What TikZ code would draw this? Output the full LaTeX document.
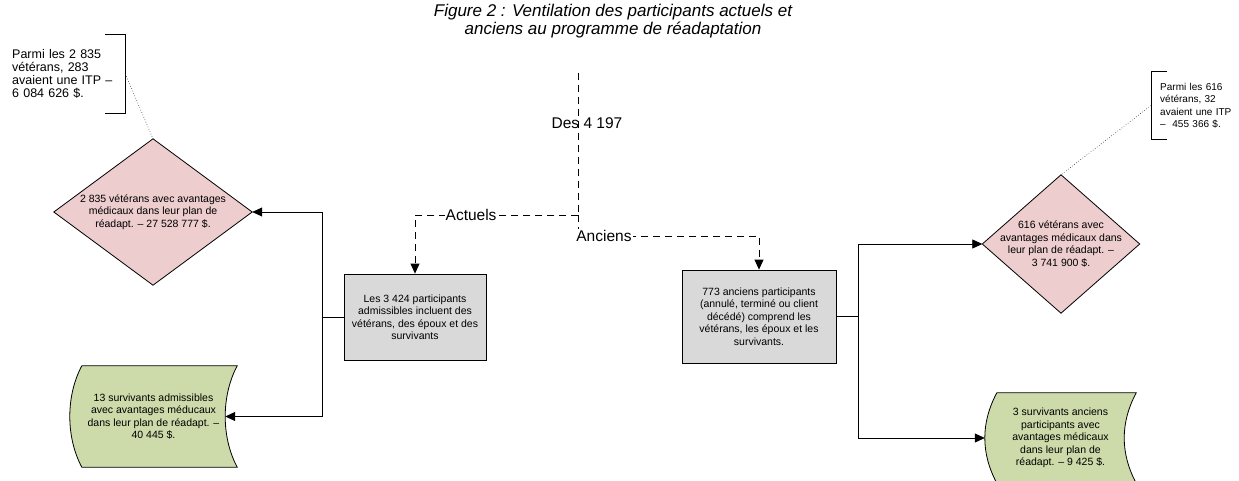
\documentclass[tikz,border=0pt]{standalone}
\usepackage{fontspec}
\setmainfont{Liberation Sans}
\usetikzlibrary{arrows.meta,backgrounds}

\definecolor{rose}{RGB}{237,205,205}
\definecolor{sauge}{RGB}{205,219,170}
\definecolor{gris}{RGB}{217,217,217}

\begin{document}
\begin{tikzpicture}
    % 样式: 1pt = 1 像素, y 轴向下
    [x=1pt, y=-1pt,
    BoxTxt/.style={font=\fontsize{10.5}{12.5}\selectfont, align=center, inner sep=0pt},
    GrayBox/.style={BoxTxt, rectangle, draw=black, line width=0.8pt, fill=gris},
    NoteTxt/.style={align=left, inner ysep=0pt, anchor=west},
    Lbl/.style={font=\fontsize{15.5}{18}\selectfont, inner sep=1pt},
    Caption/.style={font=\fontsize{17}{18.5}\selectfont\itshape, align=center},
    Link/.style={line width=0.8pt, -{Triangle[length=10pt,width=9pt]}},
    Plain/.style={line width=0.8pt},
    Dash/.style={line width=0.8pt, dash pattern=on 7pt off 5pt},
    Dots/.style={line width=0.6pt, dotted, black!85},
    DiaLine/.style={draw=black, line width=0.8pt, fill=rose},
    ScrollLine/.style={draw=black, line width=0.8pt, fill=sauge}]

    % 画布大小
    \useasboundingbox (0,0) rectangle (1239,481);

    % 标题
    \node[Caption] (titre) at (613,21)
        {Figure 2 : Ventilation des participants actuels et\\anciens au programme de réadaptation};

    % 分叉点
    \coordinate (top) at (578,73);
    \coordinate (split) at (578,215);
    \coordinate (anc) at (578,236);

    % 中间两个灰色方框
    \node[GrayBox, minimum width=142pt, minimum height=86pt] (box1) at (415,317)
        {Les 3 424 participants\\admissibles incluent des\\vétérans, des époux et des\\survivants};
    \node[GrayBox, minimum width=154pt, minimum height=93pt] (box2) at (759,316.5)
        {773 anciens participants\\(annulé, terminé ou client\\décédé) comprend les\\vétérans, les époux et les\\survivants.};

    % 菱形结点 (外框在背景层画)
    \node[BoxTxt, minimum width=198pt, minimum height=146pt] (dia1) at (153,212)
        {2 835 vétérans avec avantages\\médicaux dans leur plan de\\réadapt. – 27 528 777 \$.};
    \node[BoxTxt, minimum width=157pt, minimum height=138pt] (dia2) at (1061,244)
        {616 vétérans avec\\avantages médicaux dans\\leur plan de réadapt. –\\3 741 900 \$.};

    % 绿色卷轴结点
    \node[BoxTxt, minimum width=167pt, minimum height=101pt] (surv1) at (153.5,416.5)
        {13 survivants admissibles\\avec avantages méducaux\\dans leur plan de réadapt. –\\40 445 \$.};
    \node[BoxTxt, minimum width=151pt, minimum height=90pt] (surv2) at (1060.5,438)
        {3 survivants anciens\\participants avec\\avantages médicaux\\dans leur plan de\\réadapt. – 9 425 \$.};

    % 注释文字
    \node[NoteTxt, font=\fontsize{12.5}{13.2}\selectfont, inner xsep=0pt, text width=113pt,
        minimum height=78pt] (note1) at (12,74)
        {Parmi les 2 835\\vétérans, 283\\avaient une ITP –\\6 084 626 \$.};
    \node[NoteTxt, font=\fontsize{10}{12.5}\selectfont, inner xsep=9pt, text width=78pt,
        minimum height=67pt] (note2) at (1151,105.5)
        {Parmi les 616\\vétérans, 32\\avaient une ITP\\–~ 455 366 \$.};

    % 背景层: 菱形和卷轴外框
    \begin{scope}[on background layer]
        \foreach \d in {dia1,dia2}
            \draw[DiaLine] (\d.north) -- (\d.east) -- (\d.south) -- (\d.west) -- cycle;
        \foreach \s in {surv1,surv2}
            \draw[ScrollLine] ([xshift=12pt]\s.north west) -- (\s.north east)
                .. controls ([shift={(-16,30)}]\s.north east) and ([shift={(-16,-30)}]\s.south east) .. (\s.south east)
                -- ([xshift=12pt]\s.south west)
                .. controls ([shift={(-4,-30)}]\s.south west) and ([shift={(-4,30)}]\s.north west) .. ([xshift=12pt]\s.north west)
                -- cycle;
    \end{scope}

    % 注释括号
    \draw[Plain] ([xshift=-20pt]note1.north east) -- (note1.north east)
        -- (note1.south east) -- ([xshift=-20pt]note1.south east);
    \draw[Plain] ([xshift=16pt]note2.north west) -- (note2.north west)
        -- (note2.south west) -- ([xshift=16pt]note2.south west);
    \draw[Dots] (note1.east) -- (dia1.north);
    \draw[Dots] (note2.west) -- (dia2.north);

    % 虚线: 总数分成两支
    \draw[Dash] (top) -- node[Lbl, pos=0.352, xshift=9pt] (total) {Des 4 197} (split);
    \draw[Dash, -{Triangle[length=10pt,width=9pt]}] (split)
        -| node[Lbl, fill=white, pos=0.328] (act) {Actuels} (box1.north);
    \draw[Dash, -{Triangle[length=10pt,width=9pt]}] (split) -- (anc)
        -| node[Lbl, fill=white, pos=0, anchor=west, xshift=-3pt] (ancl) {Anciens} (box2.north);

    % 左边实线连线
    \coordinate (jl) at (322,317);
    \draw[Plain] (box1.west) -- (jl);
    \draw[Link] (jl) |- (dia1.east);
    \draw[Link] (jl) |- ([xshift=-12pt]surv1.east);

    % 右边实线连线
    \coordinate (jr) at (858,316.5);
    \draw[Plain] (box2.east) -- (jr);
    \foreach \t in {dia2,surv2}
        \draw[Link] (jr) |- (\t.west);

\end{tikzpicture}
\end{document}
